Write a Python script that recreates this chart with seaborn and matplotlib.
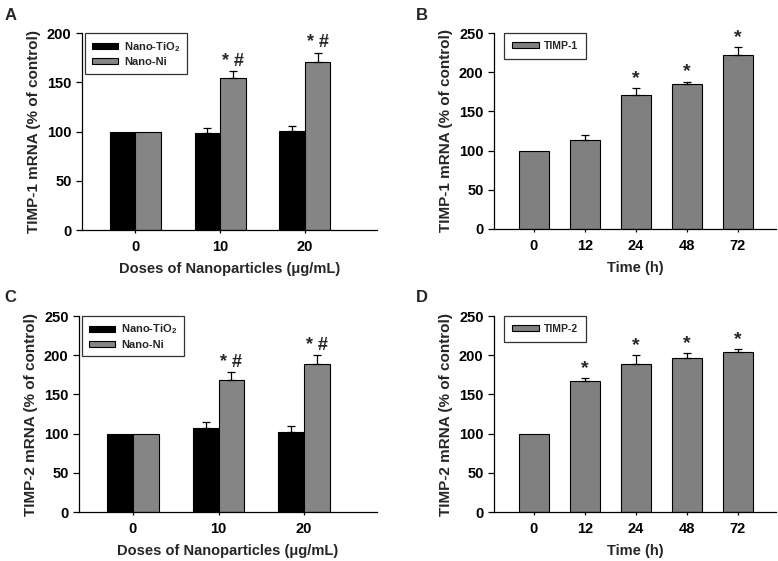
import numpy as np
import pandas as pd
import matplotlib
matplotlib.use("Agg")
import matplotlib.pyplot as plt
import seaborn as sns

# dose panels (A, C)
doses = ["0", "10", "20"]
groups = ["Nano-TiO$_\\mathbf{2}$", "Nano-Ni"]
timp1_tio2 = [100, 99, 101]
timp1_tio2_err = [0, 5, 5]
timp1_ni = [100, 154, 171]
timp1_ni_err = [0, 7, 9]
timp2_tio2 = [100, 107, 102]
timp2_tio2_err = [0, 8, 8]
timp2_ni = [100, 169, 189]
timp2_ni_err = [0, 9, 11]
dose_marks = ["", "*#", "*#"]

# time panels (B, D)
times = ["0", "12", "24", "48", "72"]
timp1_time = [100, 114, 171, 185, 222]
timp1_time_err = [0, 6, 9, 3, 10]
timp2_time = [100, 167, 189, 197, 204]
timp2_time_err = [0, 4, 11, 6, 4]
time_marks = ["", "", "*", "*", "*"]
time_marks_d = ["", "*", "*", "*", "*"]

sns.set_theme(style="ticks")
plt.rcParams["font.family"] = ["Liberation Sans", "DejaVu Sans"]
plt.rcParams["font.weight"] = "bold"
plt.rcParams["mathtext.fontset"] = "custom"
plt.rcParams["mathtext.bf"] = "Liberation Sans:bold"
plt.rcParams["mathtext.rm"] = "Liberation Sans:bold"

fig = plt.figure(figsize=(7.78, 5.61), dpi=100)
axA = fig.add_axes([0.1054, 0.590, 0.379, 0.351])
axB = fig.add_axes([0.635, 0.592, 0.362, 0.349])
axC = fig.add_axes([0.1015, 0.0873, 0.383, 0.3494])
axD = fig.add_axes([0.635, 0.0873, 0.362, 0.3494])

BLACK = "#000000"
GRAY_DOSE = "#858585"
GRAY_TIME = "#808080"


def style_axes(ax, ylim, yticks, ylabel, xlabel):
    sns.despine(ax=ax)
    for s in ["left", "bottom"]:
        ax.spines[s].set_color("black")
        ax.spines[s].set_linewidth(0.9)
    ax.set_ylim(*ylim)
    ax.set_yticks(yticks)
    ax.tick_params(axis="y", direction="out", length=4, width=0.9,
                   colors="black", labelsize=10.5)
    ax.tick_params(axis="x", direction="out", length=2, width=0.9,
                   colors="black", labelsize=10.5, pad=5)
    ax.set_ylabel(ylabel, fontsize=11, fontweight="bold", labelpad=4)
    ax.set_xlabel(xlabel, fontsize=10.5, fontweight="bold", labelpad=6)
    for t in ax.get_xticklabels() + ax.get_yticklabels():
        t.set_fontweight("bold")


def add_errors(ax, xs, tops, errs, marks, off, fs=14):
    keep = [i for i, e in enumerate(errs) if e > 0]
    ax.errorbar([xs[i] for i in keep], [tops[i] for i in keep],
                yerr=[np.zeros(len(keep)), [errs[i] for i in keep]],
                fmt="none", ecolor="black", elinewidth=0.9, capsize=3,
                capthick=0.9)
    for x, t, e, m in zip(xs, tops, errs, marks):
        if m:
            ax.text(x, t + e + off, m.replace("*#", "* #"), ha="center",
                    va="bottom", fontsize=fs, fontweight="bold")


def dose_panel(ax, tio2, tio2_err, ni, ni_err, ylim, yticks, ylabel):
    df = pd.DataFrame({
        "dose": doses * 2,
        "group": [groups[0]] * 3 + [groups[1]] * 3,
        "value": tio2 + ni,
    })
    sns.barplot(data=df, x="dose", y="value", hue="group", order=doses,
                hue_order=groups, palette=[BLACK, GRAY_DOSE], width=0.6,
                edgecolor="black", linewidth=0.8, errorbar=None, ax=ax)
    bars = ax.patches[:6]
    xs = [b.get_x() + b.get_width() / 2 for b in bars]
    tops = [b.get_height() for b in bars]
    add_errors(ax, xs[:3], tops[:3], tio2_err, [""] * 3, 0)
    add_errors(ax, xs[3:], tops[3:], ni_err, dose_marks, 1.5, fs=13)
    ax.set_xlim(-0.63, 2.85)
    handles, labels = ax.get_legend_handles_labels()
    ax.legend(handles, labels, loc="upper left", bbox_to_anchor=(0.01, 1.0),
              frameon=True, fancybox=False, edgecolor="black", fontsize=8,
              handlelength=2.4, handleheight=0.45, borderpad=0.6,
              labelspacing=0.3, handletextpad=0.5, borderaxespad=0)
    ax.get_legend().get_frame().set_linewidth(0.9)
    style_axes(ax, ylim, yticks, ylabel, "Doses of Nanoparticles (\u03bcg/mL)")


def time_panel(ax, vals, errs, marks, label, ylabel):
    df = pd.DataFrame({"time": times, "value": vals, "series": label})
    sns.barplot(data=df, x="time", y="value", hue="series", order=times,
                palette=[GRAY_TIME], width=0.6, edgecolor="black",
                linewidth=0.8, errorbar=None, ax=ax)
    bars = ax.patches[:5]
    xs = [b.get_x() + b.get_width() / 2 for b in bars]
    tops = [b.get_height() for b in bars]
    add_errors(ax, xs, tops, errs, marks, 1.5)
    ax.set_xlim(-0.78, 4.74)
    handles, labels = ax.get_legend_handles_labels()
    ax.legend(handles, labels, loc="upper left", bbox_to_anchor=(0.035, 1.0),
              frameon=True, fancybox=False, edgecolor="black", fontsize=7.5,
              handlelength=2.6, handleheight=0.45, borderpad=0.75,
              handletextpad=0.5, borderaxespad=0)
    ax.get_legend().get_frame().set_linewidth(0.9)
    style_axes(ax, (0, 250), [0, 50, 100, 150, 200, 250], ylabel, "Time (h)")


dose_panel(axA, timp1_tio2, timp1_tio2_err, timp1_ni, timp1_ni_err,
           (0, 200), [0, 50, 100, 150, 200], "TIMP-1 mRNA (% of control)")
dose_panel(axC, timp2_tio2, timp2_tio2_err, timp2_ni, timp2_ni_err,
           (0, 250), [0, 50, 100, 150, 200, 250], "TIMP-2 mRNA (% of control)")
time_panel(axB, timp1_time, timp1_time_err, time_marks, "TIMP-1",
           "TIMP-1 mRNA (% of control)")
time_panel(axD, timp2_time, timp2_time_err, time_marks_d, "TIMP-2",
           "TIMP-2 mRNA (% of control)")

for lab, x, y in [("A", 0.006, 0.985), ("B", 0.535, 0.985),
                  ("C", 0.006, 0.483), ("D", 0.535, 0.483)]:
    fig.text(x, y, lab, fontsize=12, fontweight="bold", ha="left", va="top")

fig.savefig("out.png", dpi=100, facecolor="white")
